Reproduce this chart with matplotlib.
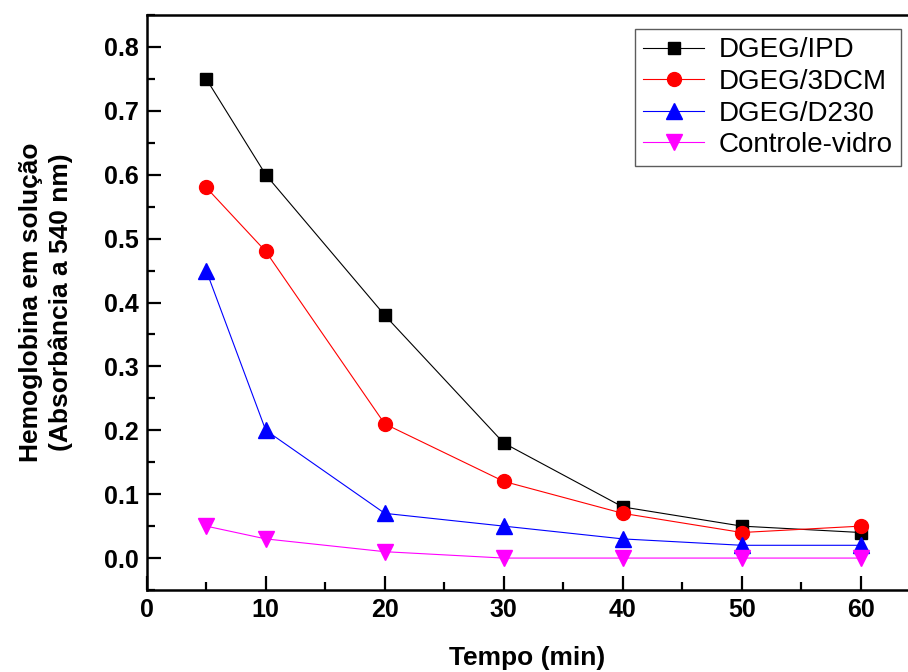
import matplotlib
matplotlib.use('Agg')
import matplotlib.pyplot as plt
from matplotlib.ticker import MultipleLocator

plt.rcParams['font.family'] = ['Liberation Sans', 'DejaVu Sans']

# data
tempo = [5, 10, 20, 30, 40, 50, 60]
ipd = [0.75, 0.60, 0.38, 0.18, 0.08, 0.05, 0.04]
dcm = [0.58, 0.48, 0.21, 0.12, 0.07, 0.04, 0.05]
d230 = [0.45, 0.20, 0.07, 0.05, 0.03, 0.02, 0.02]
controle = [0.05, 0.03, 0.01, 0.00, 0.00, 0.00, 0.00]

fig = plt.figure(figsize=(9.08, 6.72), dpi=100)
ax = fig.add_axes([0.1616, 0.122, 0.8389, 0.8557])

ax.plot(tempo, ipd, color='black', lw=0.8, marker='s', ms=9, label='DGEG/IPD')
ax.plot(tempo, dcm, color='red', lw=0.8, marker='o', ms=10, label='DGEG/3DCM')
ax.plot(tempo, d230, color='blue', lw=0.8, marker='^', ms=11, label='DGEG/D230')
ax.plot(tempo, controle, color='magenta', lw=0.8, marker='v', ms=11, label='Controle-vidro')

ax.set_xlim(0, 64)
ax.set_ylim(-0.05, 0.85)
ax.xaxis.set_major_locator(MultipleLocator(10))
ax.xaxis.set_minor_locator(MultipleLocator(5))
ax.yaxis.set_major_locator(MultipleLocator(0.1))
ax.yaxis.set_minor_locator(MultipleLocator(0.05))
ax.yaxis.set_major_formatter(lambda v, p: f'{v:.1f}')

ax.tick_params(which='both', direction='in', width=1.6, labelsize=18, pad=6)
ax.tick_params(which='major', length=10)
ax.tick_params(which='minor', length=6)
ax.tick_params(top=False, right=False)
for lbl in ax.get_xticklabels() + ax.get_yticklabels():
    lbl.set_fontweight('bold')

for s in ['left', 'bottom', 'top']:
    ax.spines[s].set_linewidth(1.8)
ax.spines['right'].set_visible(False)

ax.set_xlabel('Tempo (min)', fontsize=19, fontweight='bold', labelpad=17)
ax.set_ylabel('Hemoglobina em solução\n(Absorbância a 540 nm)', fontsize=19,
              fontweight='bold', labelpad=22, linespacing=1.3)

leg = ax.legend(loc='upper right', bbox_to_anchor=(0.997, 0.985), fontsize=20,
                frameon=True, fancybox=False, edgecolor='#333333',
                handlelength=2.2, handletextpad=0.5, borderpad=0.3,
                labelspacing=0.2, borderaxespad=0.2)
leg.get_frame().set_linewidth(1.0)

plt.savefig('out.png', dpi=100)
plt.close()
